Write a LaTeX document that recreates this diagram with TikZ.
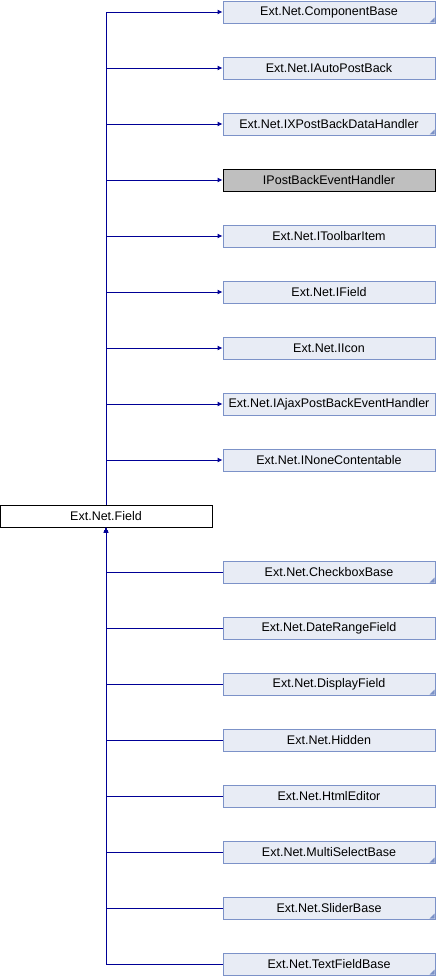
\documentclass[tikz,border=0pt]{standalone}
\usepackage{fontspec}
\setmainfont{Liberation Sans}
\usetikzlibrary{arrows.meta}
\definecolor{boxfill}{RGB}{232,236,245}
\definecolor{boxline}{RGB}{124,146,200}
\definecolor{edgecol}{RGB}{0,0,150}
\definecolor{greyfill}{RGB}{191,191,191}
\begin{document}
\begin{tikzpicture}[x=1pt,y=-1pt,
  cls/.style={draw=boxline, fill=boxfill, line width=0.9pt, minimum width=212pt, minimum height=22pt, inner sep=0pt, font=\fontsize{12.5}{15}\selectfont},
  more/.style={path picture={\fill[boxline] ([xshift=-0.5pt,yshift=0.5pt]path picture bounding box.south east) -- ++(-5,0) -- ++(5,-5) -- cycle;}},
  grey/.style={draw=black, fill=greyfill, line width=0.9pt, minimum width=212pt, minimum height=22pt, inner sep=0pt, font=\fontsize{12.5}{15}\selectfont},
  cur/.style={draw=black, fill=white, line width=0.9pt, minimum width=212pt, minimum height=22pt, inner sep=0pt, font=\fontsize{12.5}{15}\selectfont},
  edge/.style={draw=edgecol, line width=0.9pt},
  arr/.style={edge, -{Latex[length=5pt,width=5pt]}}]
\useasboundingbox (0,0) rectangle (436,976);
\node[cls,more] (u0) at (329,12) {Ext.Net.ComponentBase};
\node[cls] (u1) at (329,68) {Ext.Net.IAutoPostBack};
\node[cls,more] (u2) at (329,124) {Ext.Net.IXPostBackDataHandler};
\node[grey] (u3) at (329,180) {IPostBackEventHandler};
\node[cls] (u4) at (329,236) {Ext.Net.IToolbarItem};
\node[cls] (u5) at (329,292) {Ext.Net.IField};
\node[cls] (u6) at (329,348) {Ext.Net.IIcon};
\node[cls] (u7) at (329,404) {Ext.Net.IAjaxPostBackEventHandler};
\node[cls] (u8) at (329,460) {Ext.Net.INoneContentable};
\node[cur] (f) at (106,516) {Ext.Net.Field};
\node[cls,more] (l0) at (329,572) {Ext.Net.CheckboxBase};
\node[cls] (l1) at (329,628) {Ext.Net.DateRangeField};
\node[cls,more] (l2) at (329,684) {Ext.Net.DisplayField};
\node[cls] (l3) at (329,740) {Ext.Net.Hidden};
\node[cls] (l4) at (329,796) {Ext.Net.HtmlEditor};
\node[cls,more] (l5) at (329,852) {Ext.Net.MultiSelectBase};
\node[cls,more] (l6) at (329,908) {Ext.Net.SliderBase};
\node[cls,more] (l7) at (329,964) {Ext.Net.TextFieldBase};
\foreach \n in {u0,u1,u2,u3,u4,u5,u6,u7,u8}
  \draw[arr] (f.north) |- (\n.west);
\foreach \n in {l0,l1,l2,l3,l4,l5,l6,l7}
  \draw[arr] (\n.west) -| (f.south);
\end{tikzpicture}
\end{document}
